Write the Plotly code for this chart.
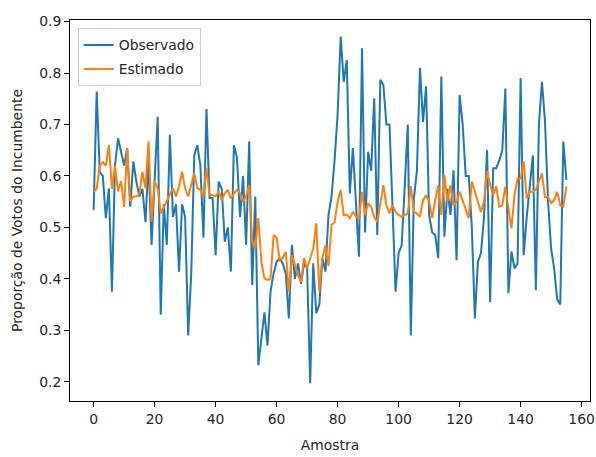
import plotly.graph_objects as go

amostra = list(range(156))

observado = [
    0.534, 0.764, 0.608, 0.600, 0.518, 0.576, 0.375, 0.620, 0.673, 0.647,
    0.620, 0.654, 0.540, 0.628, 0.589, 0.560, 0.575, 0.510, 0.630, 0.466,
    0.600, 0.715, 0.330, 0.545, 0.466, 0.680, 0.520, 0.545, 0.414, 0.545,
    0.520, 0.290, 0.410, 0.640, 0.660, 0.620, 0.480, 0.730, 0.557, 0.557,
    0.446, 0.589, 0.575, 0.472, 0.500, 0.414, 0.660, 0.635, 0.520, 0.600,
    0.466, 0.667, 0.388, 0.560, 0.232, 0.290, 0.335, 0.270, 0.375, 0.410,
    0.433, 0.440, 0.430, 0.410, 0.323, 0.466, 0.400, 0.430, 0.390, 0.430,
    0.420, 0.197, 0.430, 0.333, 0.350, 0.440, 0.414, 0.524, 0.560, 0.630,
    0.720, 0.871, 0.783, 0.825, 0.566, 0.654, 0.550, 0.443, 0.848, 0.490,
    0.647, 0.610, 0.751, 0.485, 0.787, 0.777, 0.700, 0.700, 0.540, 0.375,
    0.450, 0.465, 0.580, 0.700, 0.290, 0.556, 0.610, 0.810, 0.705, 0.774,
    0.524, 0.490, 0.485, 0.440, 0.793, 0.482, 0.575, 0.524, 0.611, 0.436,
    0.757, 0.700, 0.600, 0.600, 0.500, 0.323, 0.433, 0.450, 0.520, 0.650,
    0.355, 0.615, 0.615, 0.630, 0.650, 0.770, 0.372, 0.453, 0.420, 0.430,
    0.790, 0.446, 0.520, 0.580, 0.640, 0.378, 0.700, 0.783, 0.705, 0.550,
    0.459, 0.420, 0.360, 0.350, 0.667, 0.592,
]

estimado = [
    0.569, 0.575, 0.620, 0.627, 0.620, 0.660, 0.575, 0.620, 0.570, 0.590,
    0.540, 0.654, 0.550, 0.560, 0.560, 0.565, 0.608, 0.576, 0.667, 0.511,
    0.590, 0.576, 0.527, 0.540, 0.550, 0.563, 0.576, 0.560, 0.580, 0.608,
    0.576, 0.560, 0.580, 0.605, 0.576, 0.573, 0.560, 0.615, 0.563, 0.563,
    0.560, 0.570, 0.553, 0.566, 0.573, 0.556, 0.566, 0.573, 0.566, 0.550,
    0.560, 0.582, 0.472, 0.459, 0.518, 0.433, 0.401, 0.398, 0.400, 0.485,
    0.480, 0.436, 0.440, 0.452, 0.375, 0.446, 0.427, 0.407, 0.394, 0.440,
    0.420, 0.440, 0.459, 0.508, 0.375, 0.440, 0.465, 0.425, 0.505, 0.510,
    0.550, 0.573, 0.524, 0.525, 0.518, 0.530, 0.521, 0.518, 0.569, 0.524,
    0.547, 0.540, 0.520, 0.510, 0.543, 0.582, 0.543, 0.527, 0.543, 0.530,
    0.524, 0.521, 0.524, 0.527, 0.580, 0.530, 0.527, 0.521, 0.553, 0.563,
    0.550, 0.518, 0.553, 0.582, 0.524, 0.602, 0.550, 0.582, 0.543, 0.550,
    0.569, 0.553, 0.537, 0.518, 0.589, 0.569, 0.550, 0.530, 0.550, 0.610,
    0.583, 0.563, 0.580, 0.540, 0.543, 0.579, 0.537, 0.498, 0.563, 0.595,
    0.595, 0.628, 0.556, 0.569, 0.569, 0.573, 0.590, 0.605, 0.559, 0.559,
    0.547, 0.553, 0.569, 0.543, 0.540, 0.579,
]

x_ticks = [0, 20, 40, 60, 80, 100, 120, 140, 160]
y_ticks = [0.2, 0.3, 0.4, 0.5, 0.6, 0.7, 0.8, 0.9]

FONT = "DejaVu Sans"
TXT = "#262626"

fig = go.Figure()
fig.add_trace(go.Scatter(x=amostra, y=observado, mode="lines", name="Observado",
                         legendgroup="obs",
                         line=dict(color="#1f77b4", width=2)))
fig.add_trace(go.Scatter(x=amostra, y=estimado, mode="lines", name="Estimado",
                         legendgroup="est",
                         line=dict(color="#ff7f0e", width=2)))

axis_common = dict(showline=True, mirror=True, linecolor="black", linewidth=1,
                   showgrid=False, zeroline=False, ticks="outside", ticklen=5,
                   tickwidth=1, tickcolor="black",
                   tickfont=dict(family=FONT, size=13.9, color=TXT))

fig.update_layout(
    width=596, height=457,
    margin=dict(l=70, r=6, t=20, b=56, autoexpand=False),
    paper_bgcolor="white", plot_bgcolor="white",
    font=dict(family=FONT, size=13.9, color=TXT),
    xaxis=dict(range=[-7.75, 162.75], tickvals=x_ticks,
               title=dict(text="Amostra", standoff=14,
                          font=dict(family=FONT, size=13.9, color=TXT)),
               **axis_common),
    yaxis=dict(range=[0.1625, 0.903], tickvals=y_ticks,
               tickformat=".1f",
               title=dict(text="Proporção de Votos do Incumbente", standoff=13,
                          font=dict(family=FONT, size=13.9, color=TXT)),
               **axis_common),
    legend=dict(x=0.0148, y=0.978, xanchor="left", yanchor="top",
                bgcolor="rgba(255,255,255,0.8)", bordercolor="#cccccc",
                borderwidth=1, font=dict(family=FONT, size=13.9, color=TXT),
                itemwidth=30, traceorder="grouped", tracegroupgap=3),
    showlegend=True,
)

fig.write_html("out.html",
               config={"displayModeBar": False},
               post_script="document.body.style.margin='0';"
                           "document.body.style.padding='0';")
